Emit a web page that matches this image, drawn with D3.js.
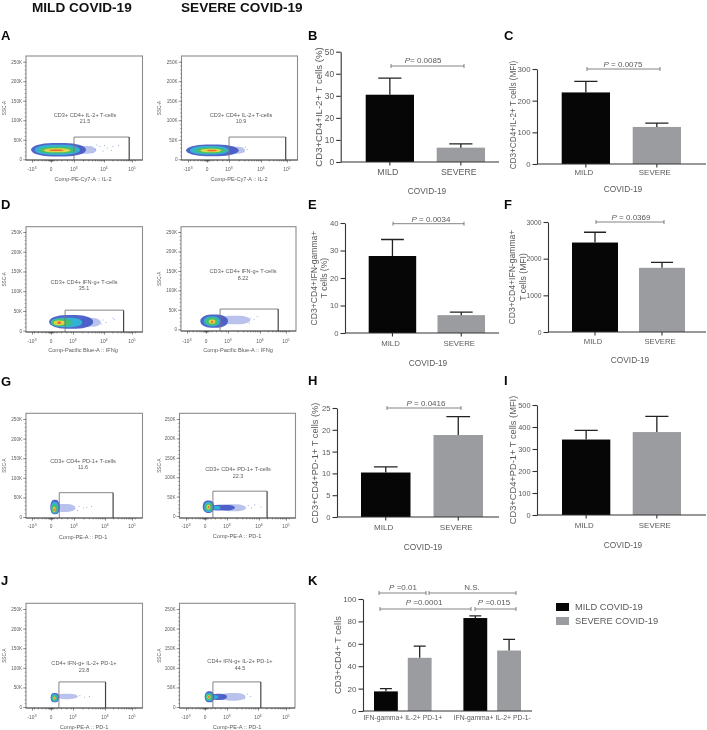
<!DOCTYPE html>
<html><head><meta charset="utf-8">
<script src="https://cdnjs.cloudflare.com/ajax/libs/d3/7.8.5/d3.min.js"></script>
<style>
html,body{margin:0;padding:0;background:#fff}
svg{display:block;filter:blur(0.35px)}
text{font-family:"Liberation Sans",Arial,sans-serif}
</style></head><body>
<svg id="c" width="707" height="730"></svg>
<script>
// ---------- data: bar panels ----------
const barGroups = ["MILD","SEVERE"];
const bMeans=[30.5,6.5],  bUpper=[38,8.2],   bTicks=[0,10,20,30,40,50];
const cMeans=[226,117],   cUpper=[261,129],  cTicks=[0,100,200,300];
const eMeans=[28,6.5],    eUpper=[34,7.6],   eTicks=[0,10,20,30,40];
const fMeans=[2440,1750], fUpper=[2720,1900],fTicks=[0,1000,2000,3000];
const hMeans=[10.2,18.8], hUpper=[11.5,23],  hTicks=[0,5,10,15,20,25];
const iMeans=[343,377],   iUpper=[385,448],  iTicks=[0,100,200,300,400,500];
const kGroups=["IFN-gamma+ IL-2+ PD-1+","IFN-gamma+ IL-2+ PD-1-"];
const kSeries=["MILD COVID-19","SEVERE COVID-19"];
const kMild=[17.5,83],  kMildUpper=[20,85];
const kSevere=[47.5,54],kSevereUpper=[58,64];
const kTicks=[0,20,40,60,80,100];
const headings=["MILD COVID-19","SEVERE COVID-19"];
const xTitle="COVID-19";
// ---------- data: flow cytometry panels ----------
const sscTicks=[0,50000,100000,150000,200000,250000];
const sscTickLabels=["0","50K","100K","150K","200K","250K"];
const compTicks=[-1,0,1,2,3];               // -10^3, 0, 10^3, 10^4, 10^5
const compBase=["-10","0","10","10","10"];
const compExp=["3","","3","4","5"];
const levelNames=["blue","cyan","green","yellow","red","pale"];
const flowNames=["CD3+ CD4+ IL-2+ T-cells","CD3+ CD4+ IL-2+ T-cells","CD3+ CD4+ IFN-g+ T-cells","CD3+ CD4+ IFN-g+ T-cells","CD3+ CD4+ PD-1+ T-cells","CD3+ CD4+ PD-1+ T-cells","CD4+ IFN-g+ IL-2+ PD-1+","CD4+ IFN-g+ IL-2+ PD-1+"];
const flowPcts=["21.5","10.9","35.1","8.22","11.6","22.3","23.8","44.5"];
const flowAxes=["Comp-PE-Cy7-A :: IL-2","Comp-PE-Cy7-A :: IL-2","Comp-Pacific Blue-A :: IFNg","Comp-Pacific Blue-A :: IFNg","Comp-PE-A :: PD-1","Comp-PE-A :: PD-1","Comp-PE-A :: PD-1","Comp-PE-A :: PD-1"];
// gate: comp min, comp max, SSC top
const flowGates=[[1,2.9,57000],[1,2.95,57000],[0.64,2.7,52000],[0.64,2.7,52000],[0.36,2.3,62000],[0.36,2.3,64000],[0.36,2.02,64000],[0.36,2.1,64000]];
// density contours: level, comp min, comp max, SSC min, SSC max
const contoursA1=[[5,0.9,1.75,14000,34000],[0,-1.05,1.4,7000,42000],[1,-0.85,1.2,11000,37000],[2,-0.65,1.05,15000,32000],[3,-0.4,0.85,18000,28000],[4,-0.1,0.55,21000,25000]];
const contoursA2=[[5,0.9,1.5,14000,32000],[0,-1.1,1.3,8000,38000],[1,-0.9,1,12000,34000],[2,-0.65,0.85,15000,30000],[3,-0.35,0.65,18000,27000],[4,0,0.45,20500,24500]];
const contoursD1=[[5,1.2,1.9,10000,32000],[0,-0.1,1.65,5000,40000],[1,-0.02,1.3,9000,33000],[2,0,0.95,11000,30000],[3,0.12,0.62,14000,26000],[4,0.28,0.46,17000,23000]];
const contoursD2=[[5,0.6,1.7,13000,35000],[0,-0.3,1,4000,38000],[1,-0.12,0.65,8000,33000],[2,-0.02,0.55,10000,30000],[3,0.12,0.43,14000,25000],[4,0.22,0.33,17000,22000]];
const contoursG1=[[5,0.1,1.05,13000,33000],[0,-0.04,0.38,7000,44000],[1,0,0.33,9000,38000],[2,0.03,0.27,11000,32000],[3,0.08,0.2,13000,26000],[4,0.11,0.17,15000,22000]];
const contoursG2=[[5,0.7,1.6,12000,30000],[0,0.2,1.25,14000,29000],[1,0.3,0.7,17000,26000],[0,-0.12,0.42,8000,40000],[1,-0.05,0.36,10000,36000],[2,0.02,0.3,14000,33000],[3,0.07,0.24,17000,29000],[4,0.12,0.2,20000,26000]];
const contoursJ1=[[5,0.2,1.15,20000,34000],[0,-0.02,0.36,12000,36000],[1,0.02,0.31,14000,33000],[2,0.05,0.26,16000,30000],[3,0.09,0.21,19000,27000],[4,0.12,0.17,21000,25000]];
const contoursJ2=[[5,0.7,1.6,16000,36000],[0,0.25,1,18000,34000],[1,0.3,0.6,21000,30000],[0,-0.02,0.42,12000,40000],[1,0.02,0.36,15000,36000],[2,0.05,0.3,18000,33000],[3,0.1,0.25,21000,30000],[4,0.14,0.21,23000,28000]];
const flowContours=[contoursA1,contoursA2,contoursD1,contoursD2,contoursG1,contoursG2,contoursJ1,contoursJ2];
// sparse events: comp, SSC
const sparseA1=[[1.55,33000],[1.7,26000],[1.85,34000],[1.95,22000],[2.1,30000],[2.3,34000],[2.5,36000],[2.25,24000],[1.6,18000],[1.75,38000],[2,36000]];
const sparseA2=[[1.45,20000],[1.55,26000],[1.5,32000]];
const sparseD1=[[1.95,28000],[2.05,22000],[2.35,30000],[2.3,33000],[1.9,18000]];
const sparseD2=[[1.7,30000],[1.8,26000],[1.9,34000],[1.65,16000]];
const sparseG1=[[1.15,28000],[1.3,24000],[1.4,26000],[1.55,28000],[1.1,18000]];
const sparseG2=[[1.65,28000],[1.85,30000],[1.75,22000],[2.05,24000]];
const sparseJ1=[[1.2,30000],[1.35,26000],[1.5,28000]];
const sparseJ2=[[1.65,34000],[1.75,28000],[1.55,22000]];
const flowSparse=[sparseA1,sparseA2,sparseD1,sparseD2,sparseG1,sparseG2,sparseJ1,sparseJ2];

// ---------- layout ----------
const levelColor=d3.scaleOrdinal().domain(levelNames).range(["#3f55c4","#33b6d6","#46c06a","#e6d845","#ee5f33","#7f8fdc"]);
const flowLayout=[
 {box:[26,56,142.5,160],y:[159.3,61.7],x:[32,51,74,104,132],nameAt:[85,115,121.5],axisAt:[83,179],tickY:171,ssc:4},
 {box:[181.5,56,297.5,160],y:[159.3,61.7],x:[188,207,229,261,287],nameAt:[241,115,121.5],axisAt:[239,179],tickY:171,ssc:159},
 {box:[26,226.7,142.5,332],y:[330.7,232],x:[32,51,73,104,132],nameAt:[84,282,288.5],axisAt:[83,350],tickY:343,ssc:4},
 {box:[181,226.7,296,331],y:[329.3,232],x:[187,206,228,260,286],nameAt:[243,271,278],axisAt:[238,350],tickY:343,ssc:159},
 {box:[26,413.3,142.5,518],y:[517,419],x:[32,51,74,105,132],nameAt:[83,461,467.5],axisAt:[83,537],tickY:528,ssc:4},
 {box:[179.5,413.3,295.5,518],y:[516,419],x:[186,205,227,259,286],nameAt:[238,469,476],axisAt:[237,536],tickY:528,ssc:159},
 {box:[26,603.3,142.5,708],y:[707,609],x:[32,51,73,105,132],nameAt:[84,663,670],axisAt:[84,727],tickY:719,ssc:4},
 {box:[179.5,603.3,295,708],y:[707,609],x:[186,205,227,258,286],nameAt:[240,661,668],axisAt:[237,727],tickY:719,ssc:159}
];
const barLayout=[
 {m:bMeans,u:bUpper,t:bTicks,ax:340.7,ar:499,y0:162,yT:51.7,b:[365.7,485],bw:48.3,fs:8.8,yfs:8.4,lab:["CD3+CD4+IL-2+ T cells (%)"],lx:[319],ly:107,lfs:9.6,tick:172,tdx:-2,cov:[427,191],sig:{txt:"= 0.0085",sx:391,ex:464,y:66,cx:423,ty:60}},
 {m:cMeans,u:cUpper,t:cTicks,ax:537,ar:706,y0:164,yT:69,b:[561.7,681],bw:48.3,fs:7.9,yfs:7.8,lab:["CD3+CD4+IL-2+ T cells (MFI)"],lx:[513],ly:115,lfs:8.2,tick:172,tdx:-2,cov:[623,189],sig:{txt:" = 0.0075",sx:587,ex:660,y:69,cx:623,ty:64}},
 {m:eMeans,u:eUpper,t:eTicks,ax:345,ar:499,y0:333,yT:223,b:[368.7,485],bw:47.5,fs:7.8,yfs:7.6,lab:["CD3+CD4+IFN-gamma+","T cells (%)"],lx:[314,324],ly:278,lfs:8.6,tick:343,tdx:-2,cov:[428,363],sig:{txt:" = 0.0034",sx:393,ex:464,y:223.7,cx:431,ty:219}},
 {m:fMeans,u:fUpper,t:fTicks,ax:548,ar:706,y0:332,yT:222,b:[572,685],bw:46,fs:7.7,yfs:6.8,lab:["CD3+CD4+IFN-gamma+","T cells (MFI)"],lx:[512,522.5],ly:277,lfs:8.6,tick:341,tdx:-2,cov:[630,360],sig:{txt:" = 0.0369",sx:596,ex:664,y:222,cx:631,ty:217}},
 {m:hMeans,u:hUpper,t:hTicks,ax:337,ar:499,y0:517,yT:408,b:[361,483],bw:49.5,fs:8.1,yfs:7.6,lab:["CD3+CD4+PD-1+ T cells (%)"],lx:[315],ly:463,lfs:9.3,tick:527,tdx:-2,cov:[423,547],sig:{txt:" = 0.0416",sx:387,ex:461,y:408,cx:426,ty:403}},
 {m:iMeans,u:iUpper,t:iTicks,ax:537,ar:706,y0:515,yT:405,b:[562,681],bw:48.3,fs:7.9,yfs:7.4,lab:["CD3+CD4+PD-1+ T cells (MFI)"],lx:[513],ly:460,lfs:9.3,tick:525,tdx:-2,cov:[623,545]}
];
const INK="#5a5a5a", AX="#333", MILDC="#060606", SEVC="#9b9c9f";
const letters=[["A",1,35],["B",308,35],["C",504,35],["D",1,204],["E",308,204],["F",504,204],["G",1,381],["H",308,380],["I",504,380],["J",1,580],["K",308,580]];

const svg=d3.select("#c");
const defs=svg.append("defs");
defs.append("filter").attr("id","soft").append("feGaussianBlur").attr("stdDeviation",0.65);

headings.forEach((h,i)=>svg.append("text").text(h).attr("x",[32,181][i]).attr("y",12.4).attr("font-size",13.6).attr("font-weight","bold").attr("fill","#111"));
letters.forEach(l=>svg.append("text").text(l[0]).attr("x",l[1]).attr("y",l[2]+4.7).attr("font-size",13).attr("font-weight","bold").attr("fill","#0a0a0a"));

// ---------- flow plots ----------
function flow(i){
  const L=flowLayout[i],[l,t,r,b]=L.box;
  const g=svg.append("g");
  const x=d3.scaleLinear().domain(compTicks).range(L.x);
  const y=d3.scaleLinear().domain([0,250000]).range(L.y);
  // contours: roundish blobs, softened
  const dens=g.append("g").attr("filter","url(#soft)");
  dens.selectAll("rect").data(flowContours[i]).join("rect")
    .attr("x",d=>x(d[1])).attr("y",d=>y(d[4]))
    .attr("width",d=>x(d[2])-x(d[1])).attr("height",d=>y(d[3])-y(d[4]))
    .attr("rx",d=>(x(d[2])-x(d[1]))/2.6).attr("ry",d=>(y(d[3])-y(d[4]))/2)
    .attr("fill",d=>levelColor(levelNames[d[0]]))
    .attr("fill-opacity",d=>d[0]==5?0.55:(d[0]==0?0.9:0.95));
  g.append("g").selectAll("rect").data(flowSparse[i]).join("rect")
    .attr("x",d=>x(d[0])).attr("y",d=>y(d[1])).attr("width",0.9).attr("height",0.9).attr("fill","#8d9bdc");
  // frame
  g.append("rect").attr("x",l).attr("y",t).attr("width",r-l).attr("height",b-t).attr("fill","none").attr("stroke","#8c8c8c").attr("stroke-width",1.1);
  // gate
  const G=flowGates[i], gl=x(G[0]), gr=x(G[1]), gt=y(G[2]);
  g.append("path").attr("d",`M${gl},${b}V${gt}H${gr}`).attr("fill","none").attr("stroke","#777").attr("stroke-width",0.9);
  g.append("line").attr("x1",gr).attr("x2",gr).attr("y1",gt).attr("y2",b).attr("stroke","#444").attr("stroke-width",1.2);
  // axes
  const yAxis=d3.axisLeft(y).tickValues(sscTicks).tickSize(3).tickPadding(1).tickFormat((d,k)=>sscTickLabels[k]);
  const yG=g.append("g").attr("transform",`translate(${l},0)`);
  yG.call(d3.axisLeft(y).tickValues(d3.range(0,260000,10000)).tickSize(1.3).tickFormat("")).call(a=>a.select(".domain").remove());
  yG.append("g").call(yAxis).call(a=>a.select(".domain").remove());
  yG.selectAll("text").attr("font-size",4.6).attr("fill",INK).style("font-family","Liberation Sans");
  yG.selectAll("line").attr("stroke","#444").attr("stroke-width",0.5);
  const xG=g.append("g").attr("transform",`translate(0,${b})`);
  const minorX=[];
  [0,1,2].forEach(e=>{[2,3,4,5,6,7,8,9].forEach(m=>{const v=1+e+Math.log10(m); if(v<3)minorX.push(v);});});
  [-0.9,-0.7,-0.5,-0.35,-0.25,-0.15,-0.1,-0.07,-0.04,-0.02,0.02,0.04,0.07,0.12,0.25,0.45,0.7,0.9,3.1].forEach(v=>minorX.push(v));
  xG.call(d3.axisBottom(x).tickValues(minorX).tickSize(1.4).tickFormat("")).call(a=>a.select(".domain").remove());
  xG.append("g").call(d3.axisBottom(x).tickValues(compTicks).tickSize(2.6).tickFormat("")).call(a=>a.select(".domain").remove());
  xG.selectAll("line").attr("stroke","#333").attr("stroke-width",0.55);
  g.append("line").attr("x1",l).attr("x2",r).attr("y1",b).attr("y2",b).attr("stroke","#444").attr("stroke-width",0.8);
  // tick labels with exponents
  const tl=g.append("g").selectAll("text").data(compTicks).join("text")
    .attr("x",d=>x(d)).attr("y",L.tickY).attr("text-anchor","middle").attr("font-size",4.8).attr("fill",INK);
  tl.append("tspan").text((d,k)=>compBase[k]);
  tl.append("tspan").text((d,k)=>compExp[k]).attr("dy",-1.6).attr("font-size",3.8);
  // labels
  const N=(s,cx,cy,fs)=>g.append("text").text(s).attr("x",cx).attr("y",cy+fs*0.35).attr("text-anchor","middle").attr("font-size",fs).attr("fill",INK);
  N(flowNames[i],L.nameAt[0],L.nameAt[1],5.6);
  N(flowPcts[i],L.nameAt[0],L.nameAt[2],5.4);
  N(flowAxes[i],L.axisAt[0],L.axisAt[1],5.6);
  g.append("text").text("SSC-A").attr("text-anchor","middle").attr("font-size",4.7).attr("fill",INK)
    .attr("transform",`translate(${L.ssc+1.6},${(t+b)/2}) rotate(-90)`);
}
flowLayout.forEach((_,i)=>flow(i));

// ---------- bar helpers ----------
function styleAxis(a,fs){
  a.selectAll("path,line").attr("stroke",AX).attr("stroke-width",1.1);
  a.selectAll("text").attr("font-size",fs).attr("fill",INK).style("font-family","Liberation Sans");
}
function bracket(x1,x2,y){
  return svg.append("path").attr("d",`M${x1},${y-2}V${y+2}M${x1},${y}H${x2}M${x2},${y-2}V${y+2}`).attr("fill","none").attr("stroke","#666").attr("stroke-width",0.8);
}
function pText(cx,cy,val,fs){
  const t=svg.append("text").attr("x",cx).attr("y",cy+fs*0.35).attr("text-anchor","middle").attr("font-size",fs).attr("fill",INK);
  t.append("tspan").text("P").attr("font-style","italic");
  t.append("tspan").text(val);
}
function rotLabel(txt,x,y,fs){
  svg.append("text").text(txt).attr("text-anchor","middle").attr("font-size",fs).attr("fill",INK)
   .attr("transform",`translate(${x+fs*0.35},${y}) rotate(-90)`);
}
// ---------- simple two-bar panels ----------
barLayout.forEach(P=>{
  const gap=(P.b[1]-P.b[0])-2*P.bw;
  const x=d3.scaleBand().domain(barGroups).range(P.b).paddingInner(gap/(P.bw+gap)).paddingOuter(0);
  const y=d3.scaleLinear().domain([0,d3.max(P.t)]).range([P.y0,P.yT]);
  const g=svg.append("g");
  g.selectAll("rect").data(barGroups).join("rect")
    .attr("x",d=>x(d)).attr("width",x.bandwidth())
    .attr("y",(d,i)=>y(P.m[i])).attr("height",(d,i)=>P.y0-y(P.m[i]))
    .attr("fill",(d,i)=>i?SEVC:MILDC);
  const capW=x.bandwidth()*0.48;
  barGroups.forEach((d,i)=>{
    const cx=x(d)+x.bandwidth()/2;
    g.append("path").attr("d",`M${cx},${y(P.m[i])}V${y(P.u[i])}M${cx-capW/2},${y(P.u[i])}H${cx+capW/2}`).attr("fill","none").attr("stroke","#222").attr("stroke-width",1.3);
  });
  const ya=svg.append("g").attr("transform",`translate(${P.ax},0)`).call(d3.axisLeft(y).tickValues(P.t).tickSize(4.5).tickSizeOuter(0).tickPadding(2).tickFormat(d3.format("d")));
  styleAxis(ya,P.yfs);
  const xa=svg.append("g").attr("transform",`translate(0,${P.y0})`).call(d3.axisBottom(x).tickSize(3.5).tickSizeOuter(0));
  xa.select(".domain").remove();
  styleAxis(xa,P.fs);
  xa.selectAll("text").attr("dx",P.tdx).attr("y",P.tick-P.y0-P.fs*0.35).attr("dy",P.fs*0.7);
  svg.append("line").attr("x1",P.ax).attr("x2",P.ar).attr("y1",P.y0).attr("y2",P.y0).attr("stroke",AX).attr("stroke-width",1.1);
  P.lab.forEach((s,k)=>rotLabel(s,P.lx[k],P.ly,P.lfs));
  svg.append("text").text(xTitle).attr("x",P.cov[0]).attr("y",P.cov[1]+2.9).attr("text-anchor","middle").attr("font-size",8.3).attr("fill",INK);
  if(P.sig){bracket(P.sig.sx,P.sig.ex,P.sig.y);pText(P.sig.cx,P.sig.ty,P.sig.txt,8);}
});
// ---------- panel K ----------
(function(){
  const y=d3.scaleLinear().domain([0,100]).range([711,599]);
  const x0=d3.scaleBand().domain(kGroups).range([374,521]).paddingInner(32/(58+32)).paddingOuter(0);
  const x1=d3.scaleBand().domain(kSeries).range([0,x0.bandwidth()]).paddingInner(10/34).paddingOuter(0);
  kGroups.forEach((gr,gi)=>{
    [[kMild,kMildUpper,MILDC],[kSevere,kSevereUpper,SEVC]].forEach((S,si)=>{
      const bx=x0(gr)+x1(kSeries[si]), bw=x1.bandwidth(), cx=bx+bw/2;
      svg.append("rect").attr("x",bx).attr("width",bw).attr("y",y(S[0][gi])).attr("height",711-y(S[0][gi])).attr("fill",S[2]);
      svg.append("path").attr("d",`M${cx},${y(S[0][gi])}V${y(S[1][gi])}M${cx-6},${y(S[1][gi])}H${cx+6}`).attr("fill","none").attr("stroke","#222").attr("stroke-width",1.3);
    });
  });
  styleAxis(svg.append("g").attr("transform","translate(363,0)").call(d3.axisLeft(y).tickValues(kTicks).tickSize(4.5).tickSizeOuter(0).tickPadding(2)),8);
  const xa=svg.append("g").attr("transform","translate(0,711)").call(d3.axisBottom(x0).tickSize(0));
  xa.select(".domain").remove();
  styleAxis(xa,6.8);
  xa.selectAll("text").attr("y",9.3).attr("dy","0");
  svg.append("line").attr("x1",363).attr("x2",532).attr("y1",711).attr("y2",711).attr("stroke",AX).attr("stroke-width",1.1);
  rotLabel("CD3+CD4+ T cells",338,655,9.4);
  bracket(379,426,593);bracket(429,516,593);bracket(380,471,609);bracket(475,516,609);
  pText(403,587," =0.01",8);pText(424,602," =0.0001",8);pText(494,602," =0.015",8);
  svg.append("text").text("N.S.").attr("x",472).attr("y",590).attr("text-anchor","middle").attr("font-size",8).attr("fill",INK);
  kSeries.forEach((s,i)=>{
    svg.append("rect").attr("x",556).attr("y",603+14*i).attr("width",13).attr("height",8).attr("fill",i?SEVC:MILDC);
    svg.append("text").text(s).attr("x",575).attr("y",610.3+14*i).attr("font-size",9.3).attr("fill",INK);
  });
})();
</script>
</body></html>
